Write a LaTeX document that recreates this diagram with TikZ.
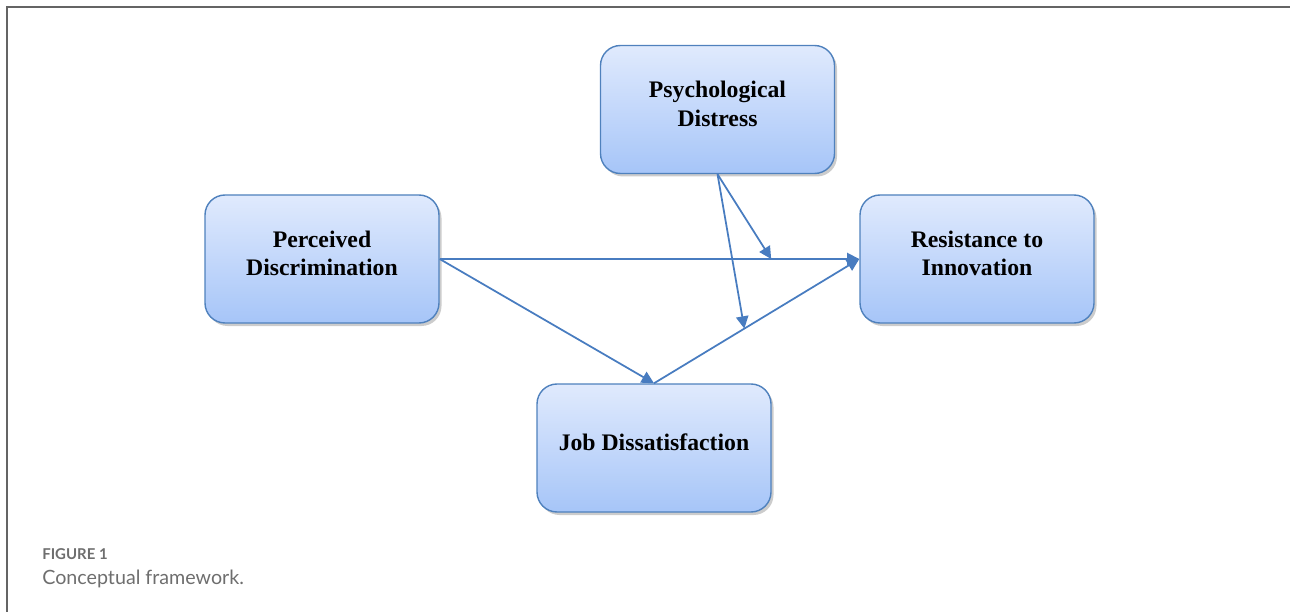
\documentclass[tikz,border=0pt]{standalone}
\usepackage{fontspec}
\setmainfont{Liberation Serif}
\newfontfamily\capfont{Lato}
\usetikzlibrary{arrows.meta,shadows}
\definecolor{boxtop}{RGB}{224,234,253}
\definecolor{boxbot}{RGB}{166,197,248}
\definecolor{boxline}{RGB}{79,129,189}
\definecolor{arrowblue}{RGB}{72,124,192}
\definecolor{capgray}{RGB}{110,110,110}
\definecolor{framegray}{RGB}{100,100,100}
\begin{document}
\begin{tikzpicture}[
  box/.style={rectangle, rounded corners=0.4cm, minimum width=4.68cm, minimum height=2.56cm,
    draw=boxline, line width=0.8pt, top color=boxtop, bottom color=boxbot, align=center,
    text depth=0.23cm, font=\fontsize{13.5}{16.2}\selectfont\bfseries,
    drop shadow={shadow xshift=0.05cm, shadow yshift=-0.06cm, opacity=0.2, fill=black}},
  link/.style={draw=arrowblue, line width=1pt, -{Triangle[length=7pt,width=7pt]}}
]
  \useasboundingbox (0,0) rectangle (25.8,-12.24);

  % 外框
  \draw[framegray, line width=1.1pt] (0.14,-12.24) -- (0.14,-0.14) -- (25.8,-0.14);

  % 四个变量
  \node[box] (pd) at (6.44,-5.18) {Perceived\\Discrimination};
  \node[box] (psd) at (14.35,-2.19) {Psychological\\Distress};
  \node[box] (ri) at (19.54,-5.18) {Resistance to\\Innovation};
  \node[box] (jd) at (13.08,-8.96) {Job Dissatisfaction};

  % 主路径
  \draw[link] (pd.east) -- coordinate[pos=0.79] (m1) (ri.west);
  \draw[link] (pd.east) -- (jd.north);
  \draw[link] (jd.north) -- coordinate[pos=0.44] (m2) (ri.west);

  % 调节箭头
  \draw[link] (psd.south) -- (m1);
  \draw[link] (psd.south) -- (m2);

  % 图题
  \node[anchor=base west, inner sep=0, text=capgray, font=\capfont\bfseries\fontsize{8.5}{10}\selectfont] (figlab) at (0.84,-11.18) {FIGURE 1};
  \node[anchor=base west, inner sep=0, text=capgray, font=\capfont\fontsize{11.2}{13}\selectfont] (figcap) at (0.84,-11.69) {Conceptual framework.};
\end{tikzpicture}
\end{document}
